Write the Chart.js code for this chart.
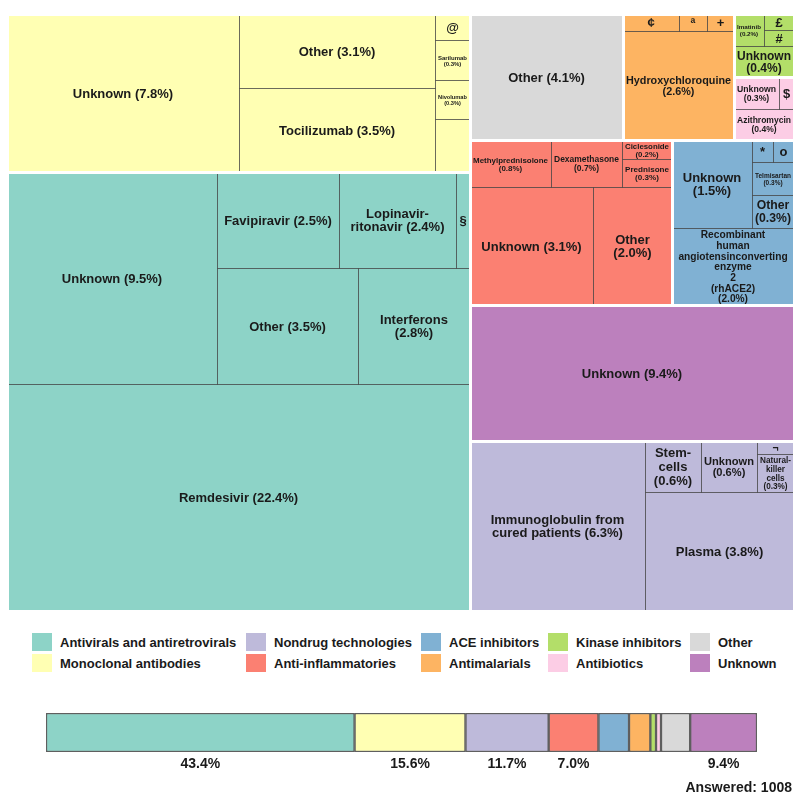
<!DOCTYPE html>
<html>
<head>
<meta charset="utf-8">
<script src="https://cdn.jsdelivr.net/npm/chart.js@4.4.1/dist/chart.umd.min.js"></script>
<style>
  body { margin: 0; background: #fff; font-family: "Liberation Sans", Arial, sans-serif; }
  #page { position: relative; width: 800px; height: 800px; }
  #tmBox { position: absolute; left: 0; top: 0; width: 800px; height: 620px; }
  #legend { position: absolute; left: 0; top: 625px; width: 800px; height: 55px; }
  #barBox { position: absolute; left: 0; top: 690px; width: 800px; height: 110px; }
  .item { position: absolute; display: flex; align-items: center; font-weight: bold; font-size: 13px; color: #1a1a1a; white-space: nowrap; }
  .sw { width: 20px; height: 18px; margin-right: 8px; }
</style>
</head>
<body>
<div id="page">
  <div id="tmBox"><canvas id="treemap"></canvas></div>
  <div id="legend"></div>
  <div id="barBox"><canvas id="shares"></canvas></div>
</div>
<script>
// categories + shares (bottom bar)
const groupNames = ['Antivirals and antiretrovirals', 'Monoclonal antibodies', 'Nondrug technologies',
  'Anti-inflammatories', 'ACE inhibitors', 'Antimalarials', 'Kinase inhibitors', 'Antibiotics', 'Other', 'Unknown'];
const groupShares = [43.4, 15.6, 11.7, 7.0, 4.3, 3.0, 0.8, 0.7, 4.1, 9.4];
const answered = 1008;

// leaves of each group
const antiviralLabels = ['Remdesivir (22.4%)', 'Unknown (9.5%)', 'Favipiravir (2.5%)', 'Lopinavir-\nritonavir (2.4%)', '§', 'Other (3.5%)', 'Interferons\n(2.8%)'];
const antiviralValues = [22.4, 9.5, 2.5, 2.4, 0.3, 3.5, 2.8];

const monoclonalLabels = ['Unknown (7.8%)', 'Other (3.1%)', 'Tocilizumab (3.5%)', '@', 'Sarilumab\n(0.3%)', 'Nivolumab\n(0.3%)', ''];
const monoclonalValues = [7.8, 3.1, 3.5, 0.2, 0.3, 0.3, 0.4];

const nondrugLabels = ['Immunoglobulin from\ncured patients (6.3%)', 'Stem-\ncells\n(0.6%)', 'Unknown\n(0.6%)', '¬', 'Natural-\nkiller\ncells\n(0.3%)', 'Plasma (3.8%)'];
const nondrugValues = [6.3, 0.6, 0.6, 0.1, 0.3, 3.8];

const antiInflamLabels = ['Methylprednisolone\n(0.8%)', 'Dexamethasone\n(0.7%)', 'Ciclesonide\n(0.2%)', 'Prednisone\n(0.3%)', 'Unknown (3.1%)', 'Other\n(2.0%)'];
const antiInflamValues = [0.8, 0.7, 0.2, 0.3, 3.1, 2.0];

const aceLabels = ['Unknown\n(1.5%)', '*', 'o', 'Telmisartan\n(0.3%)', 'Other\n(0.3%)', 'Recombinant\nhuman\nangiotensinconverting\nenzyme\n2\n(rhACE2)\n(2.0%)'];
const aceValues = [1.5, 0.1, 0.1, 0.3, 0.3, 2.0];

const antimalarialLabels = ['¢', 'ª', '+', 'Hydroxychloroquine\n(2.6%)'];
const antimalarialValues = [0.2, 0.1, 0.1, 2.6];

const kinaseLabels = ['Imatinib\n(0.2%)', '£', '#', 'Unknown\n(0.4%)'];
const kinaseValues = [0.2, 0.1, 0.1, 0.4];

const antibioticLabels = ['Unknown\n(0.3%)', '$', 'Azithromycin\n(0.4%)'];
const antibioticValues = [0.3, 0.1, 0.4];

const otherLabels = ['Other (4.1%)'];
const otherValues = [4.1];

const unknownLabels = ['Unknown (9.4%)'];
const unknownValues = [9.4];

// styles
const groupColors = ['#8DD3C7', '#FFFFB3', '#BEBADA', '#FB8072', '#80B1D3', '#FDB462', '#B3DE69', '#FCCDE5', '#D9D9D9', '#BC80BD'];
const FONT = '"Liberation Sans", Arial, sans-serif';

// nesting: 'h' = side by side, 'v' = stacked; numbers are indexes
const groups = [
  { labels: antiviralLabels, values: antiviralValues, spec: ['v', ['h', 1, ['v', ['h', 2, 3, 4], ['h', 5, 6]]], 0] },
  { labels: monoclonalLabels, values: monoclonalValues, spec: ['h', 0, ['v', 1, 2], ['v', 3, 4, 5, 6]] },
  { labels: nondrugLabels, values: nondrugValues, spec: ['h', 0, ['v', ['h', 1, 2, ['v', 3, 4]], 5]] },
  { labels: antiInflamLabels, values: antiInflamValues, spec: ['v', ['h', 0, 1, ['v', 2, 3]], ['h', 4, 5]] },
  { labels: aceLabels, values: aceValues, spec: ['v', ['h', 0, ['v', ['h', 1, 2], 3, 4]], 5] },
  { labels: antimalarialLabels, values: antimalarialValues, spec: ['v', ['h', 0, 1, 2], 3] },
  { labels: kinaseLabels, values: kinaseValues, spec: ['v', ['h', 0, ['v', 1, 2]], 3] },
  { labels: antibioticLabels, values: antibioticValues, spec: ['v', ['h', 0, 1], 2] },
  { labels: otherLabels, values: otherValues, spec: 0 },
  { labels: unknownLabels, values: unknownValues, spec: 0 }
];
const topSpec = ['h', ['v', 1, 0], ['v', ['h', 8, 5, ['v', 6, 7]], ['h', 3, 4], 9, 2]];

const sum = arr => arr.reduce((a, b) => a + b, 0);

function specTotal(spec, val) {
  if (typeof spec === 'number') return val(spec);
  return spec.slice(1).reduce((s, k) => s + specTotal(k, val), 0);
}

function place(spec, r, val, emit) {
  if (typeof spec === 'number') { emit(spec, r); return; }
  const dir = spec[0];
  const tot = specTotal(spec, val);
  let acc = 0;
  spec.slice(1).forEach(k => {
    const t = specTotal(k, val);
    const a = acc / tot, b = (acc + t) / tot;
    acc += t;
    let sub;
    if (dir === 'h') sub = { x0: r.x0 + (r.x1 - r.x0) * a, x1: r.x0 + (r.x1 - r.x0) * b, y0: r.y0, y1: r.y1 };
    else sub = { x0: r.x0, x1: r.x1, y0: r.y0 + (r.y1 - r.y0) * a, y1: r.y0 + (r.y1 - r.y0) * b };
    place(k, sub, val, emit);
  });
}

const treemapPlugin = {
  id: 'treemapCells',
  afterDatasetsDraw(chart) {
    const ctx = chart.ctx;
    const xs = chart.scales.x, ys = chart.scales.y;
    const toPx = r => {
      const x0 = Math.round(xs.getPixelForValue(r.x0)), x1 = Math.round(xs.getPixelForValue(r.x1));
      const y0 = Math.round(ys.getPixelForValue(r.y0)), y1 = Math.round(ys.getPixelForValue(r.y1));
      return { x: x0, y: y0, w: x1 - x0, h: y1 - y0 };
    };

    const groupRects = [];
    place(topSpec, { x0: 0, y0: 0, x1: 100, y1: 100 }, g => sum(groups[g].values), (g, r) => { groupRects[g] = r; });

    const leaves = [];
    groups.forEach((grp, g) => {
      place(grp.spec, groupRects[g], i => grp.values[i], (i, r) => leaves.push({ g, i, p: toPx(r) }));
    });

    ctx.save();
    // cells
    leaves.forEach(l => {
      ctx.fillStyle = groupColors[l.g];
      ctx.fillRect(l.p.x, l.p.y, l.p.w, l.p.h);
    });
    ctx.strokeStyle = 'rgba(70,70,70,0.55)';
    ctx.lineWidth = 1;
    leaves.forEach(l => ctx.strokeRect(l.p.x + 0.5, l.p.y + 0.5, l.p.w, l.p.h));
    // white gaps between groups
    ctx.strokeStyle = '#ffffff';
    ctx.lineWidth = 3;
    groupRects.forEach(r => {
      const p = toPx(r);
      ctx.strokeRect(p.x + 0.5, p.y + 0.5, p.w, p.h);
    });

    // labels
    ctx.fillStyle = '#1a1a1a';
    ctx.textAlign = 'center';
    ctx.textBaseline = 'middle';
    leaves.forEach(l => {
      const text = groups[l.g].labels[l.i];
      if (!text) return;
      const lines = text.split('\n');
      ctx.font = 'bold 13px ' + FONT;
      const maxW = Math.max(...lines.map(s => ctx.measureText(s).width));
      const size = Math.min(13, 13 * (l.p.w - 6) / maxW, (l.p.h - 2) / (lines.length * 1.05));
      ctx.font = 'bold ' + size.toFixed(2) + 'px ' + FONT;
      const lh = size * 1.05;
      const cx = l.p.x + l.p.w / 2, cy = l.p.y + l.p.h / 2 + 1;
      lines.forEach((s, k) => ctx.fillText(s, cx, cy + (k - (lines.length - 1) / 2) * lh));
    });
    ctx.restore();
  }
};

new Chart(document.getElementById('treemap'), {
  type: 'scatter',
  data: { datasets: [{ data: [] }] },
  options: {
    responsive: true,
    maintainAspectRatio: false,
    animation: false,
    layout: { padding: { left: 7, right: 6, top: 14, bottom: 9 } },
    scales: {
      x: { type: 'linear', min: 0, max: 100, display: false },
      y: { type: 'linear', min: 0, max: 100, reverse: true, display: false }
    },
    plugins: { legend: { display: false }, tooltip: { enabled: false } }
  },
  plugins: [treemapPlugin]
});

// legend, column by column
const legendX = [32, 246, 421, 548, 690];
const legendEl = document.getElementById('legend');
groupNames.forEach((name, i) => {
  const item = document.createElement('div');
  item.className = 'item';
  item.style.left = legendX[Math.floor(i / 2)] + 'px';
  item.style.top = (8 + (i % 2) * 21) + 'px';
  const sw = document.createElement('span');
  sw.className = 'sw';
  sw.style.background = groupColors[i];
  item.appendChild(sw);
  item.appendChild(document.createTextNode(name));
  legendEl.appendChild(item);
});

// bottom share bar
const shareLabels = {
  id: 'shareLabels',
  afterDatasetsDraw(chart) {
    const ctx = chart.ctx;
    ctx.save();
    ctx.fillStyle = '#1a1a1a';
    ctx.font = 'bold 14px ' + FONT;
    ctx.textAlign = 'center';
    ctx.textBaseline = 'middle';
    chart.data.datasets.forEach((ds, i) => {
      if (ds.data[0] < 5) return;
      const bar = chart.getDatasetMeta(i).data[0];
      ctx.fillText(ds.data[0].toFixed(1) + '%', (bar.x + bar.base) / 2, bar.y + bar.height / 2 + 12);
    });
    ctx.textAlign = 'right';
    ctx.fillText('Answered: ' + answered, 792, 98);
    ctx.restore();
  }
};

new Chart(document.getElementById('shares'), {
  type: 'bar',
  data: {
    labels: [''],
    datasets: groupNames.map((name, i) => ({
      label: name,
      data: [groupShares[i]],
      backgroundColor: groupColors[i],
      borderColor: '#5f5f5f',
      borderWidth: 1.5,
      borderSkipped: false,
      barPercentage: 1,
      categoryPercentage: 1
    }))
  },
  options: {
    indexAxis: 'y',
    responsive: true,
    maintainAspectRatio: false,
    animation: false,
    layout: { padding: { left: 46, right: 43, top: 23, bottom: 48 } },
    scales: {
      x: { stacked: true, min: 0, max: 100, display: false },
      y: { stacked: true, display: false }
    },
    plugins: { legend: { display: false }, tooltip: { enabled: false } }
  },
  plugins: [shareLabels]
});
</script>
</body>
</html>
